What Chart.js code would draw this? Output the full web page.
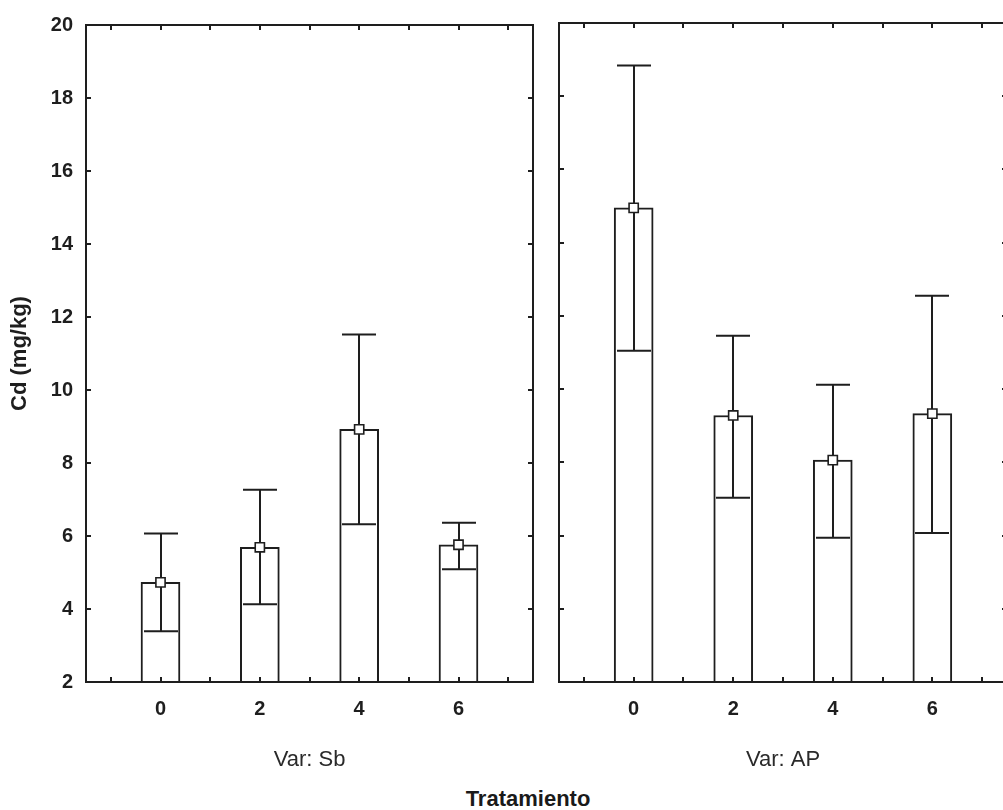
<!DOCTYPE html>
<html>
<head>
<meta charset="utf-8">
<script src="https://cdn.jsdelivr.net/npm/chart.js@4.4.0/dist/chart.umd.min.js"></script>
<style>
  html, body { margin: 0; padding: 0; background: #fff; overflow: hidden; }
  #wrap { position: relative; width: 1003px; height: 810px; overflow: hidden; }
  canvas { position: absolute; top: 0; }
  #left { left: 0; }
  #right { left: 546px; }
  #xtitle {
    position: absolute; top: 786px; left: 378px; width: 300px; text-align: center;
    font: bold 22px "Liberation Sans", Arial, sans-serif; color: #1a1a1a;
  }
</style>
</head>
<body>
<div id="wrap">
  <canvas id="left" width="548" height="780"></canvas>
  <canvas id="right" width="470" height="780"></canvas>
  <div id="xtitle">Tratamiento</div>
</div>
<script>
// treatment levels, one per bar
const categories = ["0", "2", "4", "6"];
const xTickPos = [-0.5, 0, 0.5, 1, 1.5, 2, 2.5, 3, 3.5];

// Var: Sb
const sbMean = [4.73, 5.69, 8.92, 5.76];
const sbUpper = [6.07, 7.27, 11.52, 6.36];
const sbLower = [3.39, 4.13, 6.32, 5.09];

// Var: AP
const apMean = [14.95, 9.28, 8.06, 9.33];
const apUpper = [18.84, 11.46, 10.12, 12.55];
const apLower = [11.05, 7.03, 5.94, 6.07];

const yMin = 2, yMax = 20, yStep = 2;

const ink = "#1e1e1e";
const FONT = "'Liberation Sans', Arial, sans-serif";

// whisker + caps for each bar
const errorBars = {
  id: "errorBars",
  afterDatasetDraw(chart, args, opts) {
    if (args.index !== 0) return;
    const { ctx, scales: { x, y } } = chart;
    ctx.save();
    ctx.strokeStyle = ink;
    ctx.lineWidth = 2;
    ctx.beginPath();
    opts.upper.forEach((u, i) => {
      const px = Math.round(x.getPixelForValue(i));
      const top = y.getPixelForValue(u);
      const bot = y.getPixelForValue(opts.lower[i]);
      ctx.moveTo(px, top); ctx.lineTo(px, bot);
      ctx.moveTo(px - 17, top); ctx.lineTo(px + 17, top);
      ctx.moveTo(px - 17, bot); ctx.lineTo(px + 17, bot);
    });
    ctx.stroke();
    ctx.restore();
  }
};

// box around the plot with inward tick marks on all four sides
const frameTicks = {
  id: "frameTicks",
  afterDraw(chart) {
    const { ctx, chartArea: a, scales: { x, y } } = chart;
    ctx.save();
    ctx.strokeStyle = ink;
    ctx.lineWidth = 2;
    ctx.strokeRect(a.left, a.top, a.right - a.left, a.bottom - a.top);
    ctx.beginPath();
    x.ticks.forEach(t => {
      const px = Math.round(x.getPixelForValue(t.value));
      ctx.moveTo(px, a.top); ctx.lineTo(px, a.top + 5);
      ctx.moveTo(px, a.bottom); ctx.lineTo(px, a.bottom - 5);
    });
    y.ticks.forEach(t => {
      const py = Math.round(y.getPixelForValue(t.value));
      if (t.value === yMin || t.value === yMax) return;
      ctx.moveTo(a.left, py); ctx.lineTo(a.left + 5, py);
      ctx.moveTo(a.right, py); ctx.lineTo(a.right - 5, py);
    });
    ctx.stroke();
    ctx.restore();
  }
};

function makePanel(id, varLabel, means, upper, lower, showY, padLeft, padRight) {
  const pts = categories.map((c, i) => ({ x: i, y: means[i] }));
  return new Chart(document.getElementById(id), {
    type: "bar",
    data: {
      datasets: [
        {
          type: "bar",
          data: pts,
          order: 2,
          barThickness: 39,
          backgroundColor: "#ffffff",
          borderColor: ink,
          borderWidth: 2
        },
        {
          type: "line",
          data: pts,
          order: 1,
          showLine: false,
          pointStyle: "rect",
          pointRadius: 6.5,
          pointBackgroundColor: "#ffffff",
          pointBorderColor: ink,
          pointBorderWidth: 1.6
        }
      ]
    },
    options: {
      responsive: false,
      animation: false,
      events: [],
      layout: { padding: { top: 23, right: padRight, left: padLeft, bottom: 0 } },
      plugins: {
        legend: { display: false },
        tooltip: { enabled: false },
        errorBars: { upper: upper, lower: lower }
      },
      scales: {
        x: {
          type: "linear",
          offset: false,
          min: -0.75,
          max: 3.75,
          afterBuildTicks: s => { s.ticks = xTickPos.map(v => ({ value: v })); },
          afterFit: s => { s.height = 98; },
          grid: { display: false, drawTicks: false, offset: false },
          border: { display: false },
          ticks: {
            autoSkip: false,
            maxRotation: 0,
            padding: 15,
            color: ink,
            font: { family: FONT, size: 20, weight: "bold" },
            callback: v => Number.isInteger(v) ? categories[v] : ""
          },
          title: {
            display: true,
            text: varLabel,
            color: "#2a2a2a",
            font: { family: FONT, size: 22 },
            padding: { top: 0, bottom: 7 }
          }
        },
        y: {
          display: showY,
          min: yMin,
          max: yMax,
          afterFit: s => { s.width = showY ? 86 : 0; },
          grid: { display: false, drawTicks: false },
          border: { display: false },
          ticks: {
            stepSize: yStep,
            padding: 13,
            color: ink,
            font: { family: FONT, size: 20, weight: "bold" }
          },
          title: {
            display: showY,
            text: "Cd (mg/kg)",
            color: ink,
            font: { family: FONT, size: 22, weight: "bold" },
            padding: { top: 7, bottom: 0 }
          }
        }
      }
    },
    plugins: [errorBars, frameTicks]
  });
}

makePanel("left", "Var: Sb", sbMean, sbUpper, sbLower, true, 0, 15);
makePanel("right", "Var: AP", apMean, apUpper, apLower, false, 13, 9);
</script>
</body>
</html>
